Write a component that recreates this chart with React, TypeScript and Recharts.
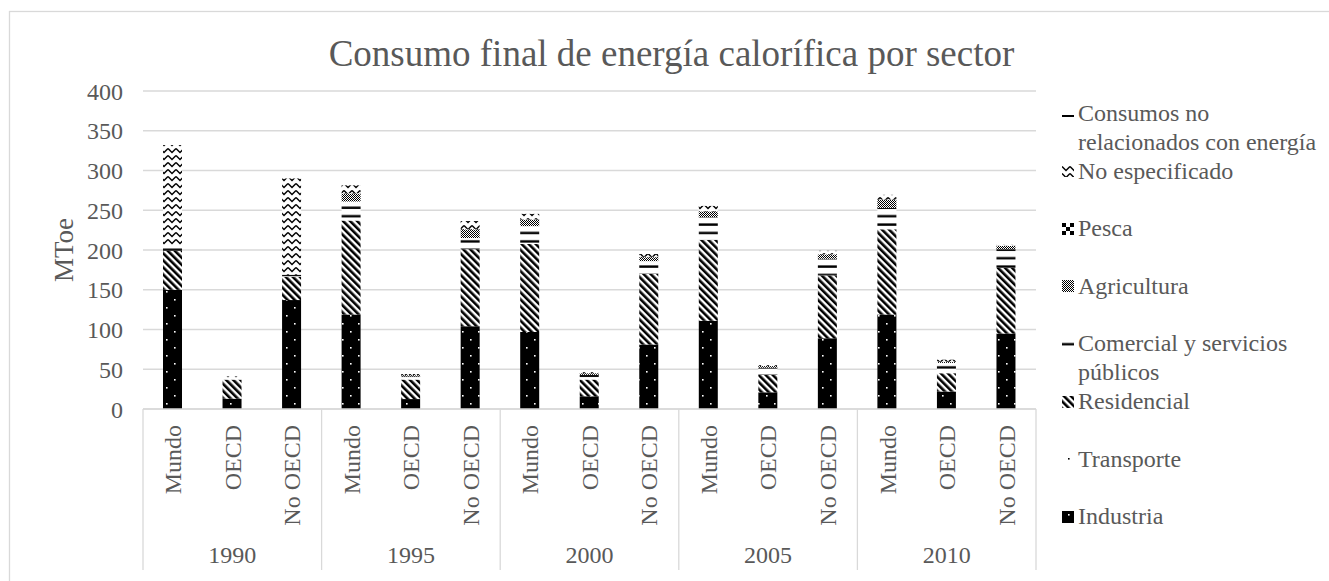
import { Bar, BarChart, CartesianGrid, Customized, XAxis, YAxis } from "recharts";

const years = ["1990", "1995", "2000", "2005", "2010"];
const regions = ["Mundo", "OECD", "No OECD"];

// MToe, order: 1990 Mundo, OECD, No OECD, 1995 ..., 2010
const industria = [150, 13, 137, 119, 12.5, 104, 97, 16, 81, 111, 21, 89, 119, 22, 95];
const transporte = [0, 0, 0, 0, 0, 0, 0, 0, 0, 0, 0, 0, 0, 0, 0];
const residencial = [49, 24, 29, 118, 24.5, 97, 110.5, 21, 89, 101.5, 22, 79, 107, 23, 82.5];
const comercial = [7, 2, 3, 24, 4, 14, 22.5, 6, 16, 29, 9, 21, 27, 13, 23.5];
const agricultura = [0, 0, 0, 10, 1.5, 11, 8, 2, 5, 7, 2, 5.5, 10, 1.5, 4];
const pesca = [0, 0, 0, 0.5, 0, 0.5, 0.5, 0, 0.5, 0.5, 0, 0.5, 0.5, 0, 0.5];
const noEspecificado = [126, 2, 121, 10, 1.5, 10, 7, 2, 3.5, 6.5, 3, 4, 6, 2.5, 2];
const noEnergia = [0.5, 0, 0, 0.5, 0, 0.5, 0.5, 0, 0, 0.5, 0, 0, 0.5, 0, 0];

const yTicks = [0, 50, 100, 150, 200, 250, 300, 350, 400];

const series = [
  { id: "ind", name: "Industria", values: industria },
  { id: "tra", name: "Transporte", values: transporte },
  { id: "res", name: "Residencial", values: residencial },
  { id: "com", name: "Comercial y servicios públicos", values: comercial },
  { id: "agr", name: "Agricultura", values: agricultura },
  { id: "pes", name: "Pesca", values: pesca },
  { id: "nes", name: "No especificado", values: noEspecificado },
  { id: "nen", name: "Consumos no relacionados con energía", values: noEnergia },
];

const data = years.flatMap((year, yi) =>
  regions.map((region, ri) => {
    const i = yi * 3 + ri;
    const row: Record<string, string | number> = { year, region };
    series.forEach((s) => (row[s.id] = s.values[i]));
    return row;
  })
);

const W = 1329;
const H = 581;
const MARGIN = { top: 91, right: 293, bottom: 12, left: 0 };
const Y_W = 143;
const X_H = 160;
const SLOT = (W - MARGIN.left - MARGIN.right - Y_W) / data.length;
const GRAY = "#d9d9d9";
const TEXT = "#595959";
const FONT = "'Liberation Serif', 'Times New Roman', serif";

function patternDefs(p: string) {
  return (
    <defs>
      <pattern id={`${p}-ind`} width={16} height={16} patternUnits="userSpaceOnUse">
        <rect width={16} height={16} fill="#000" />
        <rect x={6} y={3} width={1.6} height={1.6} fill="#fff" />
        <rect x={14} y={11} width={1.6} height={1.6} fill="#fff" />
      </pattern>
      <pattern id={`${p}-tra`} width={16} height={16} patternUnits="userSpaceOnUse">
        <rect width={16} height={16} fill="#fff" />
        <rect x={6} y={5} width={1.6} height={1.6} fill="#000" />
        <rect x={14} y={13} width={1.6} height={1.6} fill="#000" />
      </pattern>
      <pattern id={`${p}-res`} width={5} height={5} patternUnits="userSpaceOnUse" patternTransform="rotate(-45)">
        <rect width={5} height={5} fill="#fff" />
        <rect width={2.6} height={5} fill="#000" />
      </pattern>
      <pattern id={`${p}-com`} width={8} height={8.4} patternUnits="userSpaceOnUse">
        <rect width={8} height={8.4} fill="#fff" />
        <rect y={5} width={8} height={2.4} fill="#000" />
      </pattern>
      <pattern id={`${p}-agr`} width={2} height={2} patternUnits="userSpaceOnUse">
        <rect width={2} height={2} fill="#fff" />
        <rect width={1} height={1} fill="#000" />
        <rect x={1} y={1} width={1} height={1} fill="#000" />
      </pattern>
      <pattern id={`${p}-pes`} width={8} height={8} patternUnits="userSpaceOnUse">
        <rect width={8} height={8} fill="#fff" />
        <rect width={4} height={4} fill="#000" />
        <rect x={4} y={4} width={4} height={4} fill="#000" />
      </pattern>
      <pattern id={`${p}-nes`} width={8} height={7} patternUnits="userSpaceOnUse">
        <rect width={8} height={7} fill="#fff" />
        <path d="M0 1.5 L4 5.5 L8 1.5" stroke="#000" strokeWidth={1.5} fill="none" />
      </pattern>
      <pattern id={`${p}-nen`} width={8} height={10} patternUnits="userSpaceOnUse">
        <rect width={8} height={10} fill="#fff" />
        <rect y={7} width={8} height={2} fill="#000" />
      </pattern>
    </defs>
  );
}

function CategoryTick(props: any) {
  const { x, y, payload } = props;
  const i: number = props.index ?? payload.index;
  const first = i % 3 === 0;
  const last = i === data.length - 1;
  return (
    <g>
      <text
        x={x}
        y={y + 16}
        dy="0.35em"
        transform={`rotate(-90, ${x}, ${y + 16})`}
        textAnchor="end"
        fontSize={24}
        fill={TEXT}
      >
        {payload.value}
      </text>
      {first && <line x1={x - SLOT / 2} x2={x - SLOT / 2} y1={y} y2={y + 161} stroke={GRAY} strokeWidth={1.3} />}
      {last && <line x1={x + SLOT / 2} x2={x + SLOT / 2} y1={y} y2={y + 161} stroke={GRAY} strokeWidth={1.3} />}
      {i % 3 === 1 && (
        <text x={x} y={y + 146} dy="0.35em" textAnchor="middle" fontSize={24} fill={TEXT}>
          {data[i].year}
        </text>
      )}
    </g>
  );
}

function Decorations() {
  return (
    <g>
      <rect x={9.5} y={11.5} width={W} height={H} fill="none" stroke={GRAY} strokeWidth={1.3} />
      <text x={671.5} y={53} dy="0.35em" textAnchor="middle" fontSize={37} fill={TEXT}>
        Consumo final de energía calorífica por sector
      </text>
      <text
        x={64}
        y={250}
        dy="0.35em"
        transform="rotate(-90, 64, 250)"
        textAnchor="middle"
        fontSize={27}
        fill={TEXT}
      >
        MToe
      </text>
    </g>
  );
}

function LegendBox() {
  const items = [...series].reverse();
  return (
    <div style={{ position: "absolute", left: 1062, top: 99, width: 265 }}>
      {items.map((s, i) => (
        <div key={s.id} style={{ position: "absolute", top: i * 57.6, left: 0, width: 265 }}>
          <svg width={12} height={12} style={{ position: "absolute", left: 0, top: 8.5 }}>
            {patternDefs(`lg-${s.id}`)}
            <rect width={12} height={12} fill={`url(#lg-${s.id}-${s.id})`} />
          </svg>
          <div
            style={{
              position: "absolute",
              left: 16,
              top: 0,
              width: 248,
              fontSize: 24,
              lineHeight: "29px",
              color: TEXT,
            }}
          >
            {s.name}
          </div>
        </div>
      ))}
    </div>
  );
}

export default function App() {
  return (
    <div style={{ position: "absolute", left: 0, top: 0, width: W, height: H, fontFamily: FONT, background: "#fff" }}>
      <BarChart width={W} height={H} data={data} margin={MARGIN} barSize={19}>
        {patternDefs("ch")}
        <Customized component={Decorations} />
        <CartesianGrid vertical={false} stroke={GRAY} strokeWidth={1.3} />
        <XAxis
          dataKey="region"
          interval={0}
          height={X_H}
          tickLine={false}
          tickSize={0}
          tickMargin={0}
          axisLine={{ stroke: GRAY, strokeWidth: 1.3 }}
          tick={(p: any) => <CategoryTick {...p} />}
        />
        <YAxis
          width={Y_W}
          domain={[0, 400]}
          ticks={yTicks}
          axisLine={false}
          tickLine={false}
          tickSize={0}
          tickMargin={20}
          tick={{ fontSize: 24, fill: TEXT }}
        />
        {series.map((s) => (
          <Bar key={s.id} dataKey={s.id} name={s.name} stackId="a" fill={`url(#ch-${s.id})`} isAnimationActive={false} />
        ))}
      </BarChart>
      <LegendBox />
    </div>
  );
}
